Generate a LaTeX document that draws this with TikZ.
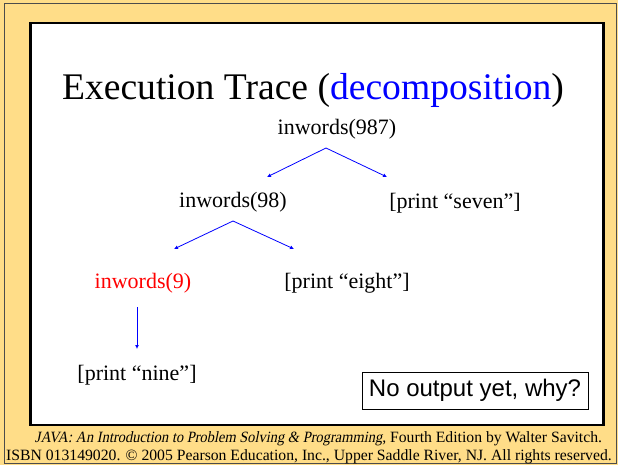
\documentclass[tikz,border=0pt]{standalone}
\usepackage{fontspec}
\setmainfont{Liberation Serif}
\newfontfamily\boxfont{Liberation Sans}
\newfontfamily\slantfont[FakeSlant=0.2,FakeStretch=0.92]{Liberation Serif}
\usetikzlibrary{arrows.meta,positioning,calc}
\definecolor{slidebg}{RGB}{255,221,136}
\definecolor{tracecol}{RGB}{0,0,255}
\definecolor{hotcall}{RGB}{255,0,0}
\tikzset{
  call/.style={inner sep=0pt,font=\fontsize{22}{24}\selectfont},
  trace/.style={draw=tracecol,line width=0.8pt,-{Latex[length=4pt,width=4pt]}},
  credit/.style={inner sep=0pt,anchor=base,font=\fontsize{15.7}{17}\selectfont},
}
\begin{document}
\begin{tikzpicture}[x=1pt,y=-1pt]
  \useasboundingbox (0,0) rectangle (618,465);
  % slide background and frame
  \fill[slidebg] (0,0) rectangle (618,465);
  \draw[black!70,line width=1.5pt] (4.5,3.5) rectangle (616.5,463.5);
  \draw[fill=white,line width=2.7pt] (30.3,23) rectangle (603.5,425);
  % title
  \node[inner sep=0pt,anchor=base,font=\fontsize{37.6}{40}\selectfont] (title) at (313,100)
    {Execution Trace (\textcolor{tracecol}{decomposition})};
  % the calls, top to bottom
  \node[call] (n987) at (337,129) {inwords(987)};
  \node[call] (n98) at (233,202.5) {inwords(98)};
  \node[call] (seven) at (455,203) {[print “seven”]};
  \node[call,text=hotcall] (n9) at (143,283) {inwords(9)};
  \node[call] (eight) at (347,283) {[print “eight”]};
  \node[call] (nine) at (137,375) {[print “nine”]};
  % question box
  \node[draw,line width=1pt,inner sep=0pt,minimum width=226pt,minimum height=37pt,
    font=\boxfont\fontsize{24}{26}\selectfont] (why) at (475,390.5) {No output yet, why?};
  % decomposition arrows
  \draw[trace] ($(n987.center)+(-11,19)$) -- ($(n98.center)+(34,-25.5)$);
  \draw[trace] ($(n987.center)+(-11,19)$) -- ($(seven.center)+(-68,-26)$);
  \draw[trace] ($(n98.center)+(0,18.5)$) -- ($(n9.center)+(31,-34)$);
  \draw[trace] ($(n98.center)+(0,18.5)$) -- ($(eight.center)+(-53,-34)$);
  \draw[trace] ($(n9.center)+(-6,24)$) -- ($(nine.center)+(0,-26)$);
  % footer
  \node[credit] (book) at (318.5,442)
    {{\slantfont JAVA: An Introduction to Problem Solving \& Programming}, Fourth Edition by Walter Savitch.};
  \node[credit] (isbn) at (309,460)
    {ISBN 013149020. © 2005 Pearson Education, Inc., Upper Saddle River, NJ. All rights reserved.};
\end{tikzpicture}
\end{document}
